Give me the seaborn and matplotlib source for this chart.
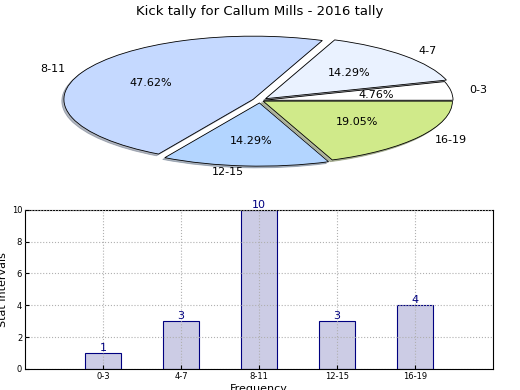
import seaborn as sns
import matplotlib.pyplot as plt
import pandas as pd

# kick tally data
intervals = ['0-3', '4-7', '8-11', '12-15', '16-19']
kicks = [1, 3, 10, 3, 4]
pie_colours = ['#ffffff', '#eaf2ff', '#c5d9ff', '#b3d5ff', '#d0ea8a']
explode = [0.02, 0.04, 0.04, 0.04, 0.02]

sns.set_style("white")
plt.rcParams['font.family'] = ['DejaVu Sans']
plt.rcParams['text.color'] = 'black'
plt.rcParams['axes.labelcolor'] = 'black'
plt.rcParams['xtick.color'] = 'black'
plt.rcParams['ytick.color'] = 'black'

fig = plt.figure(figsize=(5.2, 3.9), dpi=100)

# pie on top
ax1 = fig.add_axes([0.045, 0.54, 0.91, 0.405])
wedges, texts, autotexts = ax1.pie(kicks, labels=intervals, colors=pie_colours, explode=explode,
                                   autopct='%1.2f%%', startangle=0,
                                   shadow={'ox': -0.008, 'oy': -0.02, 'shade': 0.5},
                                   wedgeprops={'edgecolor': 'black', 'linewidth': 0.6},
                                   textprops={'fontsize': 8})
ax1.set_aspect('auto')
ax1.set_xlim(-1.25, 1.25)
ax1.set_ylim(-1.25, 1.25)
ax1.set_title('Kick tally for Callum Mills - 2016 tally', fontsize=9.5, pad=5)

# bar chart below
df = pd.DataFrame({'Frequency': intervals, 'Stat Intervals': kicks})
ax2 = fig.add_axes([0.048, 0.054, 0.9, 0.408])
sns.barplot(data=df, x='Frequency', y='Stat Intervals', ax=ax2, width=0.46,
            color='#ccccE5', saturation=1, edgecolor='#000080', linewidth=0.8)
ax2.set_xlim(-1, 5)
ax2.set_ylim(0, 10)
ax2.grid(True, linestyle=':', color='#b0b0b0', linewidth=0.8)
ax2.set_axisbelow(False)
for s in ax2.spines.values():
    s.set_color('black')
    s.set_linewidth(0.8)
ax2.tick_params(labelsize=6, direction='in', length=3, left=True, bottom=True, pad=2)
ax2.set_xlabel('Frequency', fontsize=8)
ax2.set_ylabel('Stat Intervals', fontsize=8)
ax2.yaxis.set_label_coords(-0.037, 0.5)
ax2.xaxis.set_label_coords(0.5, -0.095)
for i, v in enumerate(kicks):
    ax2.text(i, v, str(v), color='#000080', ha='center', va='bottom', fontsize=8)

fig.savefig('out.png', dpi=100)
